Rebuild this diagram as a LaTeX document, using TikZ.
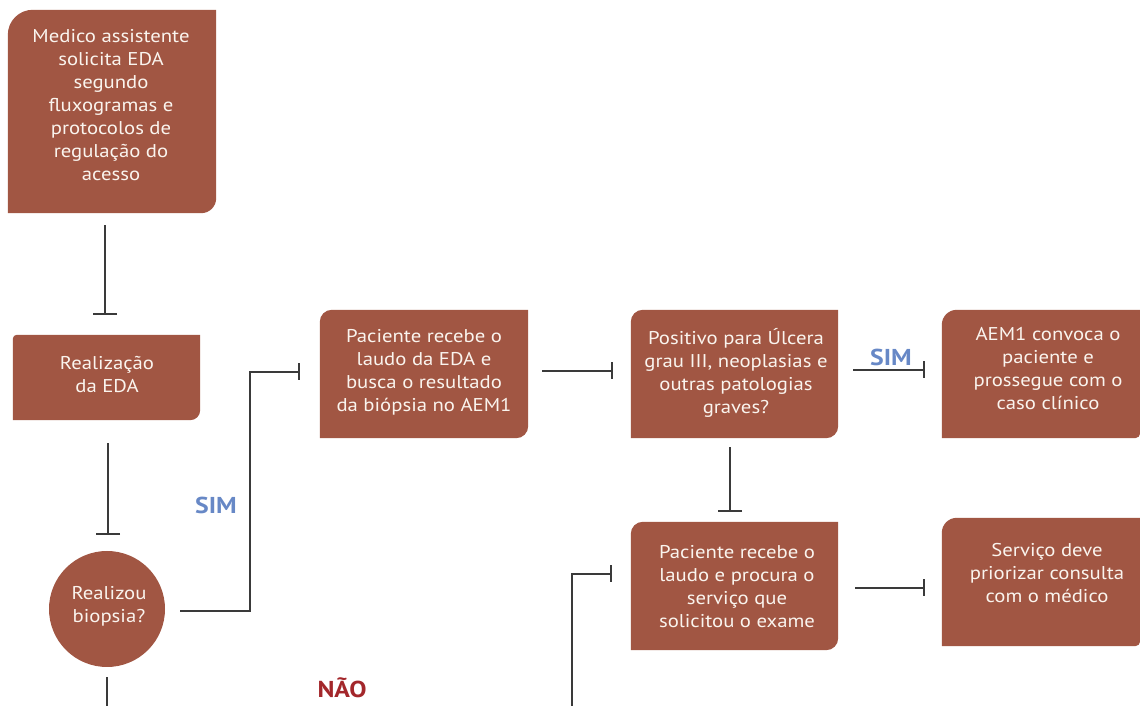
\documentclass[tikz,border=0pt]{standalone}
\usepackage{fontspec}
\setmainfont{PT Sans}[FakeStretch=1.12]
\usetikzlibrary{arrows.meta}
\definecolor{boxred}{RGB}{161,86,67}
\definecolor{boxtext}{RGB}{250,244,238}
\definecolor{linegray}{RGB}{58,58,58}
\definecolor{simblue}{RGB}{103,136,198}
\definecolor{naored}{RGB}{163,39,43}

% leaf-shaped fill: rounded top-left (#2) and bottom-right (#3) corners
\newcommand\leaffill[3]{%
  \fill[boxred] (#1.south west) -- ([yshift=-#2pt]#1.north west)
    arc[start angle=180,end angle=90,radius=#2pt] -- (#1.north east)
    -- ([yshift=#3pt]#1.south east)
    arc[start angle=0,end angle=-90,radius=#3pt] -- cycle;}

\begin{document}
\begin{tikzpicture}[x=1pt,y=1pt,
  geo/.style={rectangle,inner sep=0pt,minimum width=#1},
  txt/.style={text=boxtext,align=center,inner sep=0pt,
    font=\fontsize{18.5}{23}\selectfont},
  conn/.style={draw=linegray,line width=1.5pt},
  vbar/.style={conn,-{Bar[width=24pt,line width=1.5pt]}},
  hbar/.style={conn,-{Bar[width=17pt,line width=1.5pt]}},
  answer/.style={font=\bfseries\fontsize{23}{26}\selectfont}]
\useasboundingbox (0,0) rectangle (1140,706);

% box geometry
\node[geo=208pt,minimum height=203pt] (b1) at (112,594.5) {};
\node[geo=187pt,minimum height=85pt]  (b2) at (106.5,328.5) {};
\node[geo=208pt,minimum height=128pt] (b3) at (424,332) {};
\node[geo=207pt,minimum height=128pt] (b4) at (734.5,332) {};
\node[geo=198pt,minimum height=128pt] (b5) at (1041,332) {};
\node[geo=207pt,minimum height=128pt] (b6) at (734.5,120) {};
\node[geo=198pt,minimum height=128pt] (b7) at (1041,124) {};

\leaffill{b1}{25}{15}
\leaffill{b2}{4}{10}
\leaffill{b3}{12}{12}
\leaffill{b4}{12}{12}
\leaffill{b5}{15}{5}
\leaffill{b6}{12}{12}
\leaffill{b7}{15}{5}
\node[circle,fill=boxred,minimum size=116pt,inner sep=0pt] (circ) at (107,97) {};

% texts
\node[txt] (t1) at (111,601) {Medico assistente\\solicita EDA\\segundo\\fluxogramas e\\protocolos de\\regulação do\\acesso};
\node[txt] (t2) at (107,331.5) {Realização\\da EDA};
\node[txt] (tc) at (109,99.5) {Realizou\\biopsia?};
\node[txt] (t3) at (424,333.5) {Paciente recebe o\\laudo da EDA e\\busca o resultado\\da biópsia no AEM1};
\node[txt] (t4) at (736,333.5) {Positivo para Úlcera\\grau III, neoplasias e\\outras patologias\\graves?};
\node[txt] (t5) at (1048,337.5) {AEM1 convoca o\\paciente e\\prossegue com o\\caso clínico};
\node[txt] (t6) at (737,119.5) {Paciente recebe o\\laudo e procura o\\serviço que\\solicitou o exame};
\node[txt] (t7) at (1047,132.5) {Serviço deve\\priorizar consulta\\com o médico};

% answer labels
\node[answer,text=simblue] (sim1) at (216,201) {SIM};
\node[answer,text=simblue] (sim2) at (891,349) {SIM};
\node[answer,text=naored] (nao) at (342,18) {NÃO};

% connectors
\draw[vbar] ([xshift=-7pt,yshift=-12pt]b1.south) -- ([xshift=-1.5pt,yshift=20pt]b2.north);
\draw[vbar] ([xshift=1.5pt,yshift=-23pt]b2.south) -- ([xshift=1pt,yshift=16pt]circ.north);
\draw[hbar] ([xshift=15pt,yshift=-2pt]circ.east) -- ++(70,0) |- ([xshift=-20pt,yshift=2pt]b3.west);
\coordinate (down) at (107,-2);
\draw[conn] ([yshift=-10pt]circ.south) -- (down);
\coordinate (up) at (572,-2);
\draw[hbar] (up) |- ([xshift=-19pt,yshift=12pt]b6.west);
\draw[hbar] ([xshift=14pt,yshift=3pt]b3.east) -- ([xshift=-18pt,yshift=3pt]b4.west);
\draw[hbar] ([xshift=15pt,yshift=4pt]b4.east) -- ([xshift=-17pt,yshift=4pt]b5.west);
\draw[vbar] ([xshift=-4.5pt,yshift=-9pt]b4.south) -- ([xshift=-4.5pt,yshift=10pt]b6.north);
\draw[hbar] ([xshift=17pt,yshift=-2pt]b6.east) -- ([xshift=-17pt,yshift=-6pt]b7.west);
\end{tikzpicture}
\end{document}
